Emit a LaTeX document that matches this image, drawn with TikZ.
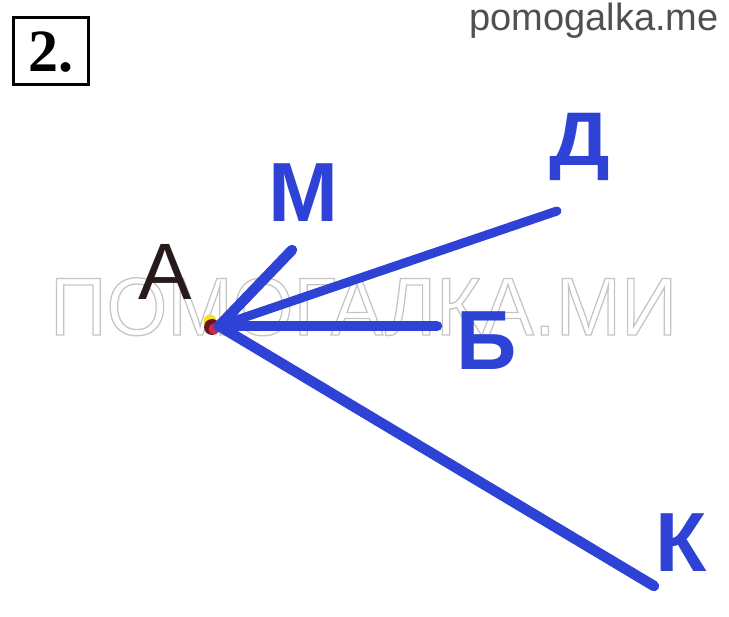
\documentclass[tikz,border=0pt]{standalone}
\usepackage{fontspec}
\setmainfont{Liberation Sans}
\newfontfamily\serifbold{Liberation Serif}[BoldFont={* Bold}]
\definecolor{rayblue}{RGB}{47,66,214}
\definecolor{wmgray}{RGB}{196,196,196}
\definecolor{sitegray}{RGB}{80,80,80}
\definecolor{ablack}{RGB}{40,26,26}
\definecolor{dotred}{RGB}{205,40,80}
\definecolor{dotdark}{RGB}{110,20,30}
\definecolor{dotyellow}{RGB}{245,225,40}
\newcommand\outlinetext[1]{\special{pdf:literal direct 1 Tr 1.3 w}#1\special{pdf:literal direct 0 Tr}}
\tikzset{
  ray/.style={draw=rayblue, line width=10.5pt, line cap=round},
  thinray/.style={ray, line width=9pt},
  lbl/.style={text=rayblue, font=\bfseries\fontsize{84}{84}\selectfont, inner sep=0pt, anchor=base},
}
\begin{document}
\begin{tikzpicture}[x=1pt,y=-1pt]
\useasboundingbox (0,0) rectangle (729,617);
% watermark
\node[anchor=base west, inner sep=0pt, text=wmgray, font=\fontsize{82}{82}\selectfont] (wm) at (50,335) {\scalebox{0.955}[1]{\outlinetext{ПОМОГАЛКА.МИ}}};
% header
\node[anchor=base east, inner sep=0pt, text=sitegray, font=\fontsize{38}{38}\selectfont] (site) at (719,31) {pomogalka.me};
\draw[line width=3pt] (13,18) rectangle (88,85);
\node[anchor=base west, inner sep=0pt, font=\serifbold\bfseries\fontsize{60}{60}\selectfont] (num) at (28,72) {2.};
% point A
\fill[dotyellow] (210,321) circle (6.5);
\fill[dotdark] (212,327) circle (8);
\fill[dotred] (214,329) circle (5.5);
\coordinate (A) at (219,326);
\coordinate (m) at (292,250);
\coordinate (d) at (557,211);
\coordinate (b) at (437,326);
\coordinate (k) at (654,586);
\draw[ray] (A) -- (m);
\draw[thinray] (A) -- (d);
\draw[ray] (A) -- (b);
\draw[ray] (A) -- (k);
% labels
\node[anchor=base, inner sep=0pt, text=ablack, font=\fontsize{80}{80}\selectfont] (la) at (165,300) {А};
\node[lbl] (lm) at (303,222) {М};
\node[lbl, font=\bfseries\fontsize{76}{76}\selectfont] (ld) at (580,166) {\scalebox{1.12}[1]{Д}};
\node[lbl] (lb) at (487,370) {Б};
\node[lbl] (lk) at (681,572) {К};
\end{tikzpicture}
\end{document}
